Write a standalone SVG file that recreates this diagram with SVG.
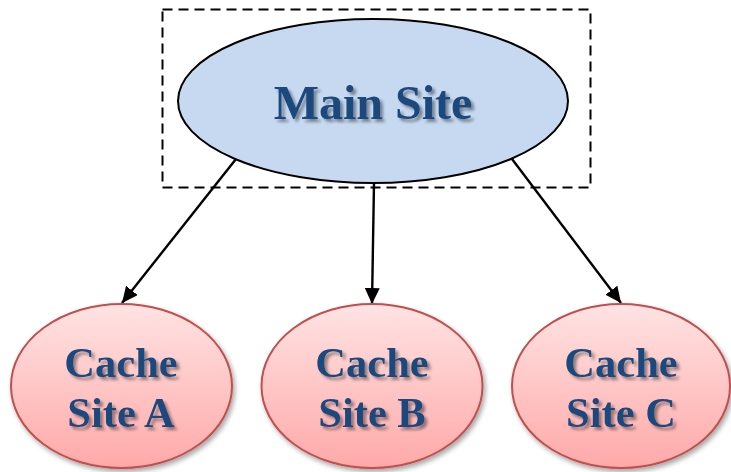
<svg xmlns="http://www.w3.org/2000/svg" width="731" height="472" viewBox="0 0 731 472">
  <defs>
    <linearGradient id="cacheFill" x1="0" y1="0" x2="0" y2="1">
      <stop offset="0" stop-color="#ffe3e3"/>
      <stop offset="1" stop-color="#ffa9a9"/>
    </linearGradient>
    <filter id="nodeShadow" x="-10%" y="-10%" width="125%" height="130%">
      <feGaussianBlur in="SourceAlpha" stdDeviation="2.5"/>
      <feOffset dx="2" dy="3" result="b"/>
      <feComponentTransfer><feFuncA type="linear" slope="0.35"/></feComponentTransfer>
      <feMerge><feMergeNode/><feMergeNode in="SourceGraphic"/></feMerge>
    </filter>
    <filter id="textShadow" x="-10%" y="-20%" width="125%" height="150%">
      <feGaussianBlur in="SourceAlpha" stdDeviation="1.5"/>
      <feOffset dx="2.5" dy="2.5"/>
      <feComponentTransfer><feFuncA type="linear" slope="0.4"/></feComponentTransfer>
      <feMerge><feMergeNode/><feMergeNode in="SourceGraphic"/></feMerge>
    </filter>
    <marker id="arrow" viewBox="0 0 16 15" refX="16" refY="7.5" markerWidth="16" markerHeight="15" orient="auto" markerUnits="userSpaceOnUse">
      <path d="M0,0 L16,7.5 L0,15 Z" fill="#000"/>
    </marker>
  </defs>
  <style>
    .label { font-family: "Liberation Serif", "Times New Roman", serif; font-weight: bold; fill: #1f497d; text-anchor: middle; filter: url(#textShadow); }
    .main-label { font-size: 48px; }
    .cache-label { font-size: 42.5px; }
    .cache { fill: url(#cacheFill); stroke: #c0504d; stroke-width: 2; filter: url(#nodeShadow); }
    .edge { stroke: #000; stroke-width: 2.4; fill: none; marker-end: url(#arrow); }
  </style>

  <!-- dashed frame around the origin server -->
  <rect x="162.5" y="9.5" width="428" height="178" fill="none" stroke="#000" stroke-width="2" stroke-dasharray="10 6"/>

  <g id="connectors">
    <line class="edge" x1="236" y1="159" x2="122" y2="303"/>
    <line class="edge" x1="374" y1="183" x2="372" y2="304"/>
    <line class="edge" x1="512" y1="159" x2="621" y2="303"/>
  </g>

  <g id="main-site">
    <ellipse cx="373" cy="101" rx="195" ry="82" fill="#c6d9f1" stroke="#000" stroke-width="2"/>
    <text class="label main-label" x="373" y="119">Main Site</text>
  </g>

  <g id="cache-a">
    <ellipse class="cache" cx="121.5" cy="386" rx="110.5" ry="82"/>
    <text class="label cache-label" x="121" y="377">Cache</text>
    <text class="label cache-label" x="121" y="427">Site A</text>
  </g>

  <g id="cache-b">
    <ellipse class="cache" cx="372" cy="386" rx="110.5" ry="82"/>
    <text class="label cache-label" x="372" y="377">Cache</text>
    <text class="label cache-label" x="372" y="427">Site B</text>
  </g>

  <g id="cache-c">
    <ellipse class="cache" cx="621" cy="386" rx="109" ry="82"/>
    <text class="label cache-label" x="621" y="377">Cache</text>
    <text class="label cache-label" x="621" y="427">Site C</text>
  </g>
</svg>
